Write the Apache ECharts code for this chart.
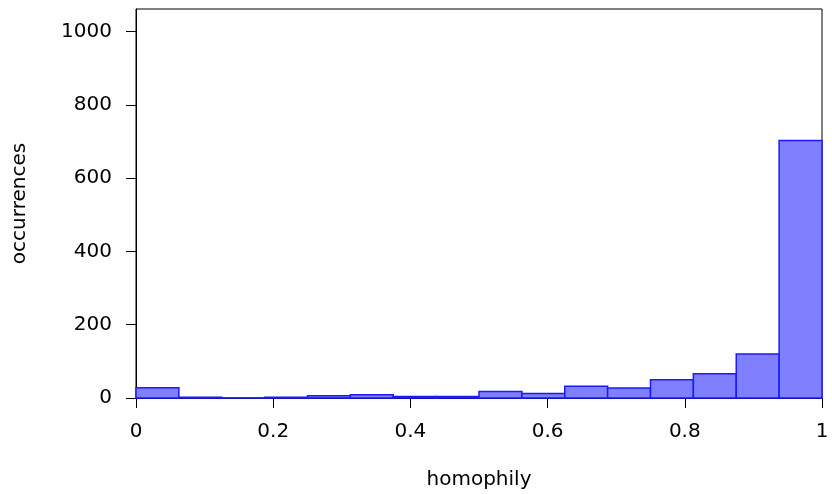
<!DOCTYPE html>
<html>
<head>
<meta charset="utf-8">
<script src="https://cdn.jsdelivr.net/npm/echarts@6/dist/echarts.min.js"></script>
<style>html,body{margin:0;padding:0;background:#fff}#c{width:832px;height:494px}</style>
</head>
<body>
<div id="c"></div>
<script>
const binStarts = [0, 0.0625, 0.125, 0.1875, 0.25, 0.3125, 0.375, 0.4375, 0.5, 0.5625, 0.625, 0.6875, 0.75, 0.8125, 0.875, 0.9375];
const binWidth = 0.0625;
const counts = [28, 2, 0, 2, 6, 9, 4, 4, 18, 12, 32, 27, 50, 66, 120, 703];
const xTicks = [0, 0.2, 0.4, 0.6, 0.8, 1];
const yTicks = [0, 200, 400, 600, 800, 1000];
const xName = 'homophily';
const yName = 'occurrences';

const FONT = '"DejaVu Sans", Verdana, sans-serif';
const chart = echarts.init(document.getElementById('c'));
const data = binStarts.map((s, i) => [s, s + binWidth, counts[i]]);
chart.setOption({
  animation: false,
  grid: {left: 136, right: 10, top: 9, bottom: 96, show: true, borderColor: '#000', borderWidth: 1,
    containLabel: false, outerBoundsMode: 'none'},
  xAxis: {
    type: 'value', min: 0, max: 1, interval: 0.2,
    name: xName, nameLocation: 'middle', nameGap: 72,
    nameTextStyle: {fontFamily: FONT, fontSize: 20, color: '#000'},
    axisLine: {show: true, lineStyle: {color: '#000', width: 1}},
    axisTick: {show: true, inside: false, length: 10, lineStyle: {color: '#000'}},
    axisLabel: {margin: 24, fontFamily: FONT, fontSize: 20, color: '#000',
      formatter: v => String(xTicks.find(t => Math.abs(t - v) < 1e-9) ?? v)},
    splitLine: {show: false}
  },
  yAxis: {
    type: 'value', min: 0, max: 1062,
    name: yName, nameLocation: 'middle', nameGap: 106, nameRotate: 90,
    nameTextStyle: {fontFamily: FONT, fontSize: 20, color: '#000'},
    axisLine: {show: true, lineStyle: {color: '#000', width: 1}},
    axisTick: {show: true, inside: false, length: 10, customValues: yTicks, lineStyle: {color: '#000'}},
    axisLabel: {customValues: yTicks, margin: 24, fontFamily: FONT, fontSize: 20, color: '#000',
      formatter: v => String(v)},
    splitLine: {show: false}
  },
  series: [{
    type: 'custom',
    data: data,
    encode: {x: [0, 1], y: 2},
    renderItem: function (params, api) {
      const p0 = api.coord([api.value(0), 0]);
      const p1 = api.coord([api.value(1), api.value(2)]);
      return {
        type: 'rect',
        shape: {x: p0[0], y: p1[1], width: p1[0] - p0[0], height: p0[1] - p1[1]},
        style: {fill: '#8080ff', stroke: '#1a1aff', lineWidth: 1.5}
      };
    }
  }]
});
</script>
</body>
</html>
